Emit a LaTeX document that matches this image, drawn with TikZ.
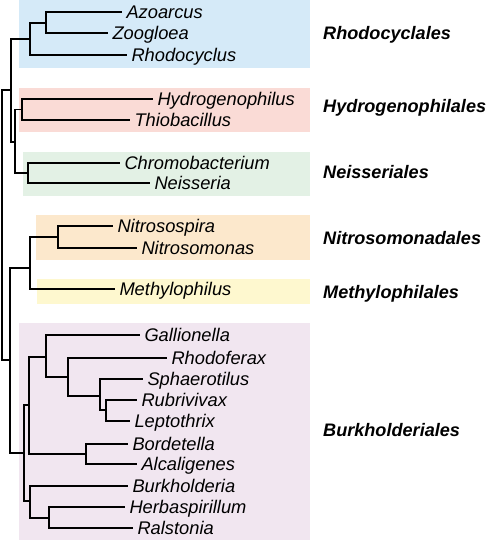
\documentclass[tikz,border=0pt]{standalone}
\usepackage{fontspec}
\newfontfamily\hv{Liberation Sans}
\definecolor{cblue}{HTML}{D5EAF8}
\definecolor{cpink}{HTML}{FADBD6}
\definecolor{cgreen}{HTML}{E3F1E5}
\definecolor{corange}{HTML}{FCE8CC}
\definecolor{cyellow}{HTML}{FEF8CF}
\definecolor{cpurple}{HTML}{F1E6F0}
\tikzset{
  leaf/.style={anchor=west, inner sep=0pt, outer xsep=4.5pt, outer ysep=0pt,
    text height=13pt, text depth=0pt, font=\hv\itshape\fontsize{18.3}{21}\selectfont},
  order/.style={anchor=west, inner sep=0pt, text height=13pt, text depth=0pt,
    font=\hv\bfseries\itshape\fontsize{18.1}{21}\selectfont},
  br/.style={line width=1.7pt, line join=miter, black}
}
\begin{document}
\begin{tikzpicture}[x=1pt,y=-1pt]
\useasboundingbox (0,0) rectangle (488,540);
% coloured bands
\fill[cblue]   (19,0)   rectangle (310,68);
\fill[cpink]   (19,88)  rectangle (310,132);
\fill[cgreen]  (23,152) rectangle (310,196);
\fill[corange] (36,215) rectangle (310,260);
\fill[cyellow] (37,279) rectangle (310,304);
\fill[cpurple] (19,323) rectangle (310,540);
% order labels
\node[order] (oRho) at (323,33)  {Rhodocyclales};
\node[order] (oHyd) at (323,106) {Hydrogenophilales};
\node[order] (oNei) at (323,172) {Neisseriales};
\node[order] (oNit) at (323,238) {Nitrosomonadales};
\node[order] (oMet) at (323,292) {Methylophilales};
\node[order] (oBur) at (323,430) {Burkholderiales};
% leaves
\node[leaf] (azo) at (122,12)  {Azoarcus};
\node[leaf] (zoo) at (108,33)  {Zoogloea};
\node[leaf] (rhc) at (127,55)  {Rhodocyclus};
\node[leaf] (hyd) at (153,99)  {Hydrogenophilus};
\node[leaf] (thi) at (130,120) {Thiobacillus};
\node[leaf] (chr) at (120,163) {Chromobacterium};
\node[leaf] (nei) at (150,183) {Neisseria};
\node[leaf] (nsp) at (113,226) {Nitrosospira};
\node[leaf] (nsm) at (137,248) {Nitrosomonas};
\node[leaf] (met) at (115,289) {Methylophilus};
\node[leaf] (gal) at (140,335) {Gallionella};
\node[leaf] (rhf) at (167,358) {Rhodoferax};
\node[leaf] (sph) at (143,379) {Sphaerotilus};
\node[leaf] (rub) at (137,400) {Rubrivivax};
\node[leaf] (lep) at (130,421) {Leptothrix};
\node[leaf] (bor) at (128,444) {Bordetella};
\node[leaf] (alc) at (137,464) {Alcaligenes};
\node[leaf] (bur) at (128,486) {Burkholderia};
\node[leaf] (her) at (125,507) {Herbaspirillum};
\node[leaf] (ral) at (133,528) {Ralstonia};
% internal nodes
\coordinate (root) at (2,225);
\coordinate (nA)   at (11,90);
\coordinate (nRho) at (30,39);
\coordinate (nAZ)  at (45.7,23);
\coordinate (nHN)  at (15,142);
\coordinate (nHy)  at (22,109.5);
\coordinate (nNe)  at (28,173);
\coordinate (nB)   at (10,360);
\coordinate (nNM)  at (30,268);
\coordinate (nNi)  at (58,237);
\coordinate (nBu)  at (24,453);
\coordinate (nG)   at (29,405);
\coordinate (nGa)  at (46,357);
\coordinate (nRf)  at (68,377);
\coordinate (nSp)  at (100,396);
\coordinate (nRu)  at (106,410);
\coordinate (nBA)  at (86,454);
\coordinate (nBH)  at (30,501);
\coordinate (nHR)  at (49,518);
% branches
\draw[br] (root) |- (nA);  \draw[br] (root) |- (nB);
\draw[br] (nA) |- (nRho);  \draw[br] (nA) |- (nHN);
\draw[br] (nRho) |- (nAZ); \draw[br] (nRho) |- (rhc.west);
\draw[br] (nAZ) |- (azo.west); \draw[br] (nAZ) |- (zoo.west);
\draw[br] (nHN) |- (nHy); \draw[br] (nHN) |- (nNe);
\draw[br] (nHy) |- (hyd.west); \draw[br] (nHy) |- (thi.west);
\draw[br] (nNe) |- (chr.west); \draw[br] (nNe) |- (nei.west);
\draw[br] (nB) |- (nNM); \draw[br] (nB) |- (nBu);
\draw[br] (nNM) |- (nNi); \draw[br] (nNM) |- (met.west);
\draw[br] (nNi) |- (nsp.west); \draw[br] (nNi) |- (nsm.west);
\draw[br] (nBu) |- (nG); \draw[br] (nBu) |- (nBH);
\draw[br] (nG) |- (nGa); \draw[br] (nG) |- (nBA);
\draw[br] (nGa) |- (gal.west); \draw[br] (nGa) |- (nRf);
\draw[br] (nRf) |- (rhf.west); \draw[br] (nRf) |- (nSp);
\draw[br] (nSp) |- (sph.west); \draw[br] (nSp) |- (nRu);
\draw[br] (nRu) |- (rub.west); \draw[br] (nRu) |- (lep.west);
\draw[br] (nBA) |- (bor.west); \draw[br] (nBA) |- (alc.west);
\draw[br] (nBH) |- (bur.west); \draw[br] (nBH) |- (nHR);
\draw[br] (nHR) |- (her.west); \draw[br] (nHR) |- (ral.west);
\end{tikzpicture}
\end{document}
